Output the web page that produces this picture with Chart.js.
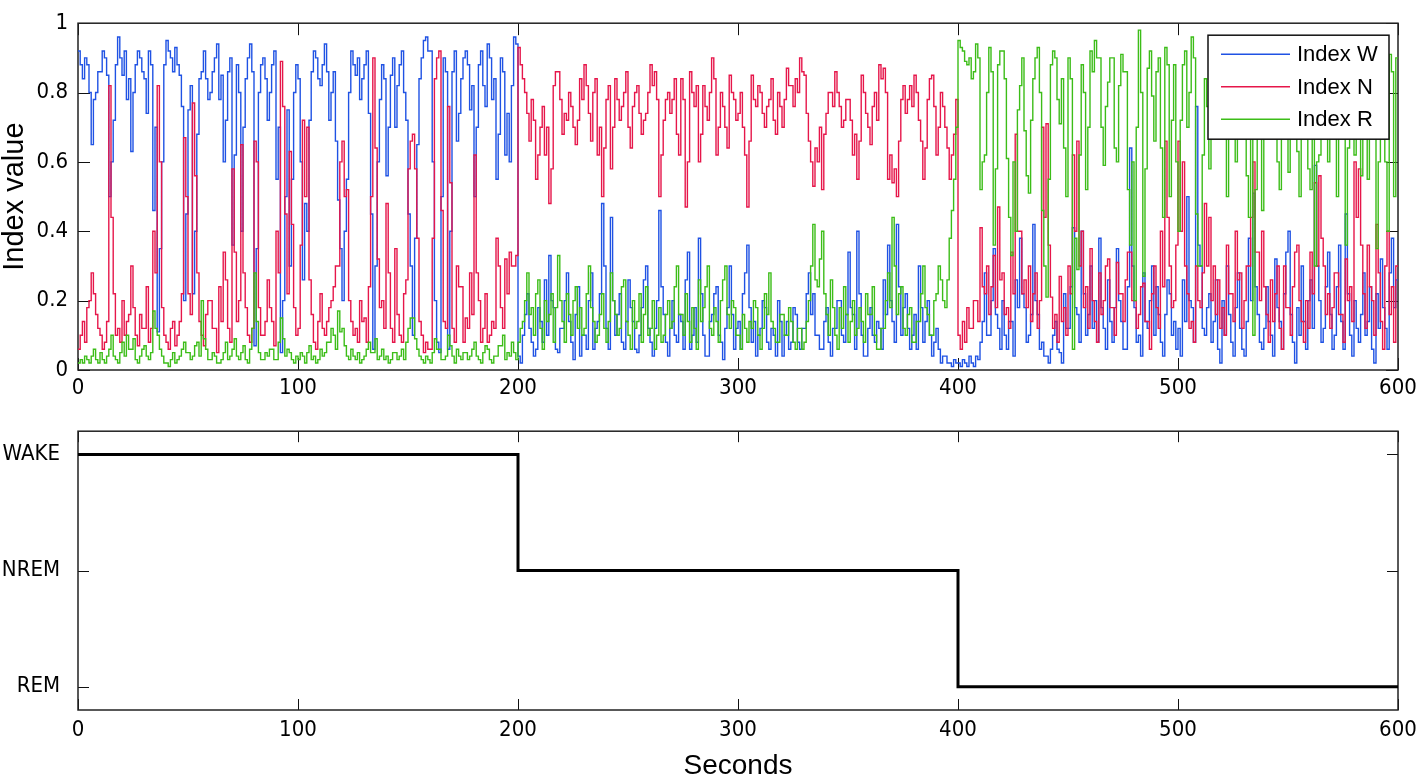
<!DOCTYPE html>
<html lang="en">
<head>
  <meta charset="UTF-8">
  <title>Index values and sleep stage</title>
  <style>
    body {
      margin: 0;
      padding: 0;
      background: #fff;
    }

    .figure {
      position: relative;
      width: 1417px;
      height: 780px;
      background: #fff;
    }

    canvas {
      position: absolute;
      left: 0;
    }

    #indexChart { top: 0; }
    #stageChart { top: 400px; }
  </style>
</head>
<body>
  <div class="figure">
    <canvas id="indexChart" width="1417" height="400"></canvas>
    <canvas id="stageChart" width="1417" height="380"></canvas>
  </div>

  <script src="https://cdn.jsdelivr.net/npm/chart.js"></script>
  <script>
    // one sample per second, values in percent (0-100)
    const sampleStep = 1;

    const indexW = [
      92,88, 84,90, 88,80, 65,78, 80,86, 86,92, 90,85, 50,60, 72,88, 96,90,
      85,92, 78,84, 63,80, 88,92, 90,86, 84,74, 92,88, 46,70, 11,35, 60,88,
      95,92, 90,86, 93,88, 85,76, 20,45, 75,82, 22,40, 68,84, 86,92, 84,78,
      80,86, 90,94, 78,85, 60,72, 86,90, 36,62, 88,80, 40,70, 84,90, 94,86,
      7,35, 80,88, 90,84, 72,80, 88,92, 55,70, 5,20, 50,75, 30,55, 80,88,

      84,60, 26,48, 40,72, 86,92, 90,84, 82,88, 94,86, 72,80, 86,66, 49,35,
      20,40, 55,80, 92,88, 85,90, 78,84, 88,92, 74,45, 6,30, 60,78, 88,84,
      56,70, 85,90, 70,82, 88,92, 80,72, 45,30, 10,38, 65,84, 90,95, 96,92,
      92,60, 20,8, 5,50, 90,86, 6,40, 86,92, 66,74, 84,90, 92,88, 75,82,
      50,70, 88,92, 82,76, 94,90, 78,84, 55,68, 90,86, 62,74, 60,82, 96,94,

      4,2, 10,16, 22,12, 8,4, 6,18, 14,8, 26,10, 33,20, 18,6, 5,12,
      12,20, 28,14, 8,3, 16,24, 4,10, 10,6, 20,28, 6,12, 14,22, 48,30,
      12,6, 44,20, 10,16, 22,8, 6,14, 26,18, 14,6, 5,10, 18,26, 30,12,
      8,4, 12,20, 46,24, 16,8, 4,12, 20,10, 8,16, 14,6, 26,34, 6,10,
      18,8, 38,22, 10,4, 4,14, 16,22, 24,10, 8,3, 12,18, 30,16, 6,12,

      14,6, 22,28, 36,18, 8,14, 4,10, 12,20, 18,8, 6,12, 10,4, 20,14,
      4,10, 14,6, 8,18, 16,8, 6,12, 12,22, 28,16, 22,10, 10,6, 6,14,
      18,8, 4,12, 12,20, 20,10, 8,16, 34,18, 16,6, 40,22, 10,4, 4,12,
      18,10, 8,14, 12,6, 26,16, 36,20, 14,8, 42,24, 10,18, 22,12, 6,10,
      16,6, 30,18, 8,14, 20,10, 4,8, 12,6, 2,4, 4,2, 2,1, 3,2,

      2,1, 3,2, 1,4, 2,1, 4,3, 8,14, 28,10, 10,20, 35,16, 12,6,
      20,10, 6,14, 14,4, 26,18, 38,22, 18,8, 10,16, 42,20, 16,6, 8,4,
      4,2, 6,10, 14,6, 5,2, 22,12, 12,24, 41,18, 16,8, 40,22, 10,16,
      30,12, 20,8, 38,18, 12,6, 26,14, 8,18, 35,20, 14,6, 6,24, 64,30,
      18,8, 10,4, 28,14, 12,20, 30,10, 24,16, 8,4, 16,26, 22,10, 14,6,

      12,4, 26,14, 50,20, 18,8, 76,36, 30,12, 10,18, 22,8, 14,26, 6,2,
      20,10, 30,16, 8,4, 18,28, 12,6, 4,14, 38,20, 51,24, 16,8, 6,12,
      24,14, 10,4, 32,18, 14,6, 22,34, 40,16, 8,2, 18,10, 30,14, 6,20,
      26,12, 59,30, 20,8, 12,24, 34,16, 6,10, 24,36, 14,6, 45,22, 10,4,
      20,12, 8,16, 28,10, 14,24, 6,2, 22,12, 32,18, 12,6, 28,38, 18,26
    ];

    const indexN = [
      6,10, 14,8, 18,20, 28,22, 16,12, 10,6, 8,14, 82,44, 22,10, 12,8,
      20,10, 14,16, 30,18, 10,7, 16,12, 12,24, 8,12, 40,28, 82,60, 18,10,
      8,6, 12,14, 7,10, 14,22, 67,50, 22,16, 77,56, 28,14, 10,7, 16,20,
      20,12, 12,5, 24,14, 34,26, 12,8, 58,34, 14,20, 65,28, 18,10, 8,12,
      66,60, 18,10, 10,14, 26,18, 14,7, 40,28, 89,76, 45,22, 63,42, 18,10,

      12,36, 72,50, 70,26, 16,8, 6,14, 22,12, 10,14, 18,20, 24,30, 30,60,
      66,50, 52,20, 14,10, 12,8, 20,14, 15,8, 24,50, 90,64, 32,18, 20,12,
      48,28, 12,8, 35,16, 10,8, 22,26, 58,66, 68,58, 38,14, 10,5, 8,6,
      6,38, 84,90, 92,46, 14,12, 76,54, 12,8, 30,24, 24,8, 15,12, 28,16,
      62,28, 20,8, 12,22, 8,10, 14,12, 38,30, 18,12, 32,22, 34,30, 30,33,

      93,88, 84,80, 74,66, 78,72, 55,62, 70,76, 62,70, 48,58, 82,86, 86,78,
      68,74, 72,80, 76,70, 65,72, 84,78, 88,82, 74,66, 80,84, 62,70, 50,64,
      78,82, 58,70, 84,78, 72,76, 80,86, 70,64, 76,80, 82,74, 68,72, 74,80,
      88,82, 86,78, 50,62, 72,78, 80,74, 78,84, 68,62, 84,78, 47,60, 86,80,
      76,82, 60,68, 82,76, 72,80, 90,84, 62,70, 80,76, 70,64, 85,80, 78,72,

      74,80, 70,62, 47,66, 85,78, 76,82, 80,74, 70,76, 78,84, 72,68, 80,76,
      70,78, 87,82, 82,76, 84,80, 90,86, 85,74, 66,60, 53,64, 60,70, 52,68,
      74,80, 80,76, 86,80, 76,70, 72,78, 78,72, 62,68, 55,66, 85,80, 74,70,
      65,76, 80,72, 88,84, 87,80, 55,62, 54,58, 50,66, 78,82, 74,78, 82,76,
      85,80, 72,66, 55,64, 78,84, 85,76, 62,70, 80,76, 70,64, 55,62, 68,78,

      10,6, 14,8, 18,12, 12,20, 20,14, 41,24, 22,30, 16,24, 33,18, 47,26,
      28,16, 18,12, 34,22, 68,40, 40,22, 26,18, 30,14, 22,28, 12,20, 70,44,
      71,36, 21,12, 16,8, 27,14, 18,10, 30,22, 62,40, 66,30, 40,18, 24,12,
      35,20, 14,8, 28,16, 20,30, 32,18, 18,10, 31,22, 22,14, 26,34, 34,20,
      20,12, 16,24, 25,14, 14,6, 22,30, 18,12, 40,24, 66,44, 30,18, 20,36,

      66,40, 60,30, 22,12, 14,8, 30,20, 18,28, 48,30, 44,20, 30,16, 26,12,
      18,10, 36,22, 22,14, 40,26, 28,12, 20,30, 30,44, 60,34, 34,20, 40,24,
      16,8, 26,14, 22,30, 12,6, 30,18, 18,10, 24,34, 36,20, 14,8, 20,12,
      34,22, 54,30, 56,38, 30,16, 22,12, 18,28, 28,16, 16,8, 32,20, 24,14,
      60,44, 58,36, 22,12, 36,24, 20,10, 42,28, 14,6, 30,40, 16,24, 8,30
    ];

    const indexR = [
      2,3, 2,4, 3,2, 4,6, 3,2, 5,3, 2,4, 6,10, 4,3, 2,5,
      8,4, 10,6, 6,9, 3,2, 4,6, 7,4, 3,5, 17,12, 10,6, 4,2,
      2,1, 3,5, 2,3, 4,6, 8,5, 5,3, 4,7, 8,4, 20,9, 6,3,
      3,5, 4,2, 2,3, 5,8, 3,4, 6,9, 4,3, 5,7, 3,2, 6,12,
      28,14, 5,3, 3,5, 4,6, 6,3, 3,8, 15,9, 4,6, 5,3, 2,4,

      3,5, 4,2, 5,7, 3,4, 2,3, 6,4, 5,8, 8,12, 10,6, 17,11,
      12,7, 4,3, 6,4, 3,5, 2,3, 4,6, 8,5, 5,9, 3,4, 6,3,
      4,2, 3,5, 5,3, 4,6, 3,8, 12,15, 15,9, 6,4, 3,2, 4,3,
      2,5, 9,6, 6,3, 3,4, 10,7, 4,2, 6,4, 3,5, 5,3, 4,6,
      8,4, 3,2, 5,7, 6,3, 2,4, 4,7, 7,10, 3,5, 4,8, 5,3,

      8,12, 14,20, 28,16, 18,10, 22,26, 12,6, 20,14, 16,22, 8,18, 33,20,
      14,8, 22,16, 10,20, 24,12, 18,10, 12,22, 30,18, 14,8, 10,16, 22,12,
      8,14, 28,20, 16,10, 12,24, 26,14, 10,6, 20,12, 14,22, 8,16, 24,10,
      12,20, 6,10, 18,8, 10,16, 20,12, 14,24, 30,16, 16,10, 22,14, 8,18,
      12,6, 26,14, 18,24, 30,12, 10,18, 14,8, 20,26, 30,16, 12,20, 18,10,

      10,6, 16,12, 8,14, 12,20, 18,10, 6,12, 22,16, 28,14, 12,8, 8,16,
      16,10, 10,18, 14,8, 6,12, 12,6, 8,14, 20,30, 42,26, 24,32, 40,22,
      16,10, 26,18, 10,6, 18,12, 24,16, 8,14, 20,10, 12,18, 14,8, 22,16,
      16,24, 10,6, 6,12, 12,20, 28,18, 44,30, 16,22, 24,12, 10,16, 18,8,
      8,14, 14,22, 30,18, 16,10, 10,20, 22,30, 26,20, 18,26, 38,46, 55,70,

      95,93, 92,89, 88,90, 84,86, 94,90, 52,60, 62,80, 93,86, 36,58, 88,92,
      92,84, 61,44, 33,60, 40,75, 82,90, 69,56, 51,72, 84,90, 93,80, 46,30,
      21,55, 88,92, 90,78, 71,84, 64,50, 90,84, 6,38, 29,62, 88,80, 52,70,
      92,86, 95,90, 90,70, 59,76, 83,90, 90,64, 60,82, 91,86, 86,52, 36,60,
      20,70, 98,80, 27,58, 87,92, 79,66, 86,90, 64,44, 93,88, 50,72, 88,60,

      40,72, 88,92, 70,80, 96,90, 45,30, 30,62, 84,76, 58,86, 92,70, 71,88,
      90,82, 50,74, 88,92, 60,80, 93,86, 75,56, 44,70, 10,52, 86,90, 46,72,
      92,84, 70,88, 88,60, 52,78, 94,86, 57,74, 82,90, 63,50, 90,84, 74,58,
      52,80, 30,60, 62,84, 88,70, 60,86, 92,80, 50,72, 84,90, 36,64, 90,78,
      62,84, 76,56, 88,92, 55,80, 92,68, 35,60, 80,86, 60,40, 91,86, 50,90
    ];

    // hypnogram
    const stageTimes = [0, 200, 400, 600];
    const stageLevels = [3, 2, 1, 1];
    const stageNames = ['REM', 'NREM', 'WAKE'];

    const tickFamily = "'Liberation Sans Narrow', 'DejaVu Sans Condensed', sans-serif";
    const textFamily = "'Liberation Sans', Arial, sans-serif";

    function toPoints(values) {
      const pts = values.map((v, i) => ({ x: i * sampleStep, y: v / 100 }));
      // hold last value to the end of the record
      pts.push({ x: values.length * sampleStep, y: values[values.length - 1] / 100 });
      return pts;
    }

    // matlab style box with inward ticks on all four sides
    const boxTicks = {
      id: 'boxTicks',
      beforeDatasetsDraw(chart, args, opts) {
        const { ctx, chartArea: a, scales: { x, y } } = chart;
        ctx.save();
        ctx.strokeStyle = '#111';
        ctx.lineWidth = 1;
        ctx.beginPath();
        x.ticks.forEach(t => {
          const px = Math.round(x.getPixelForValue(t.value)) + 0.5;
          ctx.moveTo(px, a.bottom); ctx.lineTo(px, a.bottom - opts.len);
          ctx.moveTo(px, a.top); ctx.lineTo(px, a.top + opts.len);
        });
        y.ticks.forEach(t => {
          const py = Math.round(y.getPixelForValue(t.value)) + 0.5;
          ctx.moveTo(a.left, py); ctx.lineTo(a.left + opts.len, py);
          ctx.moveTo(a.right, py); ctx.lineTo(a.right - opts.len, py);
        });
        ctx.stroke();
        ctx.lineWidth = 1.5;
        ctx.strokeStyle = '#222';
        ctx.strokeRect(a.left, a.top, a.right - a.left, a.bottom - a.top);
        ctx.restore();
      }
    };

    // legend box inside the top right corner
    const boxLegend = {
      id: 'boxLegend',
      afterDatasetsDraw(chart, args, opts) {
        if (!opts.show) return;
        const { ctx, chartArea: a } = chart;
        const w = 181, h = 104;
        const x0 = a.right - 9 - w, y0 = a.top + 12;
        ctx.save();
        ctx.fillStyle = '#fff';
        ctx.fillRect(x0, y0, w, h);
        ctx.strokeStyle = '#111';
        ctx.lineWidth = 1.5;
        ctx.strokeRect(x0, y0, w, h);
        ctx.font = '22px ' + textFamily;
        ctx.textBaseline = 'middle';
        ctx.fillStyle = '#000';
        ['Index W', 'Index N', 'Index R'].forEach((name, i) => {
          const ds = chart.data.datasets.find(d => d.label === name);
          const yy = y0 + 19 + i * 32.5;
          ctx.strokeStyle = ds.borderColor;
          ctx.lineWidth = 1.5;
          ctx.beginPath();
          ctx.moveTo(x0 + 13, yy);
          ctx.lineTo(x0 + 82, yy);
          ctx.stroke();
          ctx.fillText(name, x0 + 89, yy + 1);
        });
        ctx.restore();
      }
    };

    // keep the plot box at a fixed place, labels may hang over the edge
    function fixX(height) {
      return s => { s.height = height; s.paddingLeft = 0; s.paddingRight = 0; };
    }

    const lineStyle = { pointRadius: 0, borderWidth: 1.4, stepped: 'before', fill: false };

    new Chart(document.getElementById('indexChart'), {
      type: 'line',
      data: {
        datasets: [
          { label: 'Index W', data: toPoints(indexW), borderColor: '#1f52e4', order: 3, ...lineStyle },
          { label: 'Index N', data: toPoints(indexN), borderColor: '#e6164a', order: 2, ...lineStyle },
          { label: 'Index R', data: toPoints(indexR), borderColor: '#3cbd18', order: 1, ...lineStyle }
        ]
      },
      options: {
        responsive: false,
        animation: false,
        layout: { padding: { top: 10, right: 19, left: 0, bottom: 0 } },
        plugins: {
          legend: { display: false },
          tooltip: { enabled: false },
          boxTicks: { len: 12 },
          boxLegend: { show: true }
        },
        scales: {
          x: {
            type: 'linear',
            min: 0,
            max: 600,
            ticks: { stepSize: 100, padding: 5, color: '#000', maxRotation: 0, font: { family: tickFamily, size: 22 } },
            grid: { display: false, drawTicks: false },
            border: { display: false },
            afterFit: fixX(30)
          },
          y: {
            min: 0,
            max: 1,
            ticks: {
              stepSize: 0.2,
              padding: 10,
              color: '#000',
              font: { family: tickFamily, size: 22 },
              callback: v => String(Math.round(v * 10) / 10)
            },
            grid: { display: false, drawTicks: false },
            border: { display: false },
            title: {
              display: true,
              text: 'Index value',
              color: '#000',
              padding: 0,
              font: { family: textFamily, size: 29, lineHeight: 1 }
            },
            afterFit: s => { s.width = 78; }
          }
        }
      },
      plugins: [boxTicks, boxLegend]
    });

    new Chart(document.getElementById('stageChart'), {
      type: 'line',
      data: {
        datasets: [{
          label: 'Stage',
          data: stageTimes.map((t, i) => ({ x: t, y: stageLevels[i] })),
          borderColor: '#000',
          borderWidth: 3,
          pointRadius: 0,
          stepped: 'before',
          fill: false
        }]
      },
      options: {
        responsive: false,
        animation: false,
        layout: { padding: { top: 31, right: 19, left: 0, bottom: 0 } },
        plugins: {
          legend: { display: false },
          tooltip: { enabled: false },
          boxTicks: { len: 11 },
          boxLegend: { show: false }
        },
        scales: {
          x: {
            type: 'linear',
            min: 0,
            max: 600,
            ticks: { stepSize: 100, padding: 7, color: '#000', maxRotation: 0, font: { family: tickFamily, size: 22 } },
            grid: { display: false, drawTicks: false },
            border: { display: false },
            title: {
              display: true,
              text: 'Seconds',
              color: '#000',
              padding: 0,
              font: { family: textFamily, size: 28, lineHeight: 1 }
            },
            afterFit: fixX(70)
          },
          y: {
            min: 0.8,
            max: 3.2,
            afterBuildTicks: s => { s.ticks = [1, 2, 3].map(v => ({ value: v })); },
            ticks: {
              padding: 18,
              color: '#000',
              font: { family: tickFamily, size: 22 },
              callback: v => stageNames[v - 1]
            },
            grid: { display: false, drawTicks: false },
            border: { display: false },
            afterFit: s => { s.width = 78; }
          }
        }
      },
      plugins: [boxTicks, boxLegend]
    });
  </script>
</body>
</html>
